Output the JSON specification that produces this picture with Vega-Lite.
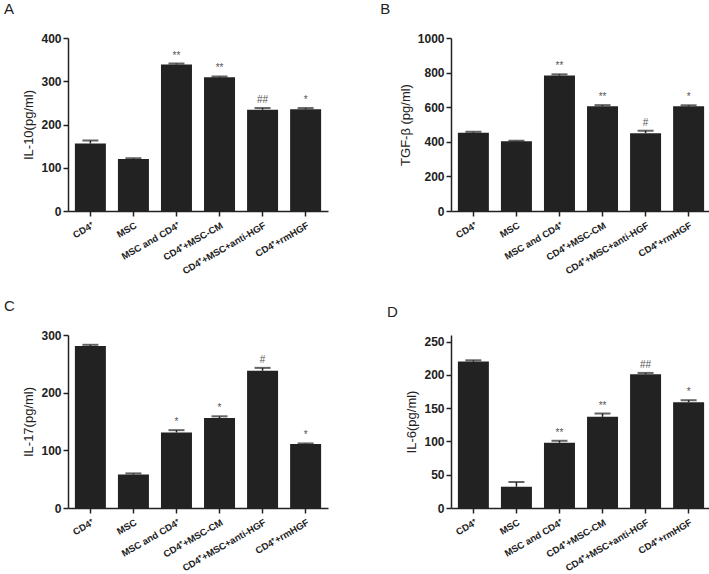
{
  "$schema": "https://vega.github.io/schema/vega-lite/v6.json",
  "padding": {"left": 3, "top": 2, "right": 0, "bottom": 0},
  "config": {
    "view": {"stroke": null},
    "font": "Liberation Sans",
    "axis": {"grid": false, "domainColor": "#222", "tickColor": "#222", "domainWidth": 1.5, "tickWidth": 1.5, "tickSize": 5, "labelFont": "Liberation Sans", "labelFontWeight": "bold", "labelColor": "#222", "titleFont": "Liberation Sans", "titleColor": "#222", "titleFontWeight": "normal", "titleFontSize": 13},
    "axisX": {"labelAngle": -30, "labelAlign": "right", "labelBaseline": "top", "labelFontSize": 9.5, "labelPadding": 4, "labelOverlap": false, "labelLimit": 300, "title": null},
    "axisY": {"labelFontSize": 12, "labelPadding": 2, "titlePadding": 5, "labelOverlap": false},
    "title": {"anchor": "start", "frame": "bounds", "fontSize": 15, "fontWeight": "normal", "font": "Liberation Sans", "color": "#222", "dx": -19, "offset": 15}
  },
  "columns": 2,
  "spacing": {"row": 23, "column": 52},
  "concat": [
    {
      "title": "A",
      "width": 260, "height": 173,
      "data": {"values": [
        {"group": "CD4⁺", "value": 156, "upper": 163, "sig": ""},
        {"group": "MSC", "value": 120, "upper": 122, "sig": ""},
        {"group": "MSC and CD4⁺", "value": 339, "upper": 341, "sig": "**"},
        {"group": "CD4⁺+MSC-CM", "value": 309, "upper": 311, "sig": "**"},
        {"group": "CD4⁺+MSC+anti-HGF", "value": 234, "upper": 238, "sig": "##"},
        {"group": "CD4⁺+rmHGF", "value": 235, "upper": 238, "sig": "*"}
      ]},
      "encoding": {"x": {"field": "group", "type": "nominal", "sort": null, "scale": {"paddingInner": 0.28, "paddingOuter": 0.16}}},
      "layer": [
        {"mark": {"type": "bar", "color": "#222"}, "encoding": {"y": {"field": "value", "type": "quantitative", "scale": {"domain": [0, 400]}, "axis": {"title": "IL-10(pg/ml)", "values": [0, 100, 200, 300, 400], "format": "d", "labelOverlap": false}}}},
        {"mark": {"type": "rule", "color": "#222", "strokeWidth": 1.5}, "encoding": {"y": {"field": "value", "type": "quantitative", "axis": {"title": "IL-10(pg/ml)", "values": [0, 100, 200, 300, 400], "format": "d", "labelOverlap": false}}, "y2": {"field": "upper"}}},
        {"mark": {"type": "tick", "color": "#222", "size": 16, "thickness": 2}, "encoding": {"y": {"field": "upper", "type": "quantitative", "axis": {"title": "IL-10(pg/ml)", "values": [0, 100, 200, 300, 400], "format": "d", "labelOverlap": false}}}},
        {"mark": {"type": "text", "baseline": "bottom", "dy": -3, "fontSize": 10, "color": "#555"}, "encoding": {"y": {"field": "upper", "type": "quantitative", "axis": {"title": "IL-10(pg/ml)", "values": [0, 100, 200, 300, 400], "format": "d", "labelOverlap": false}}, "text": {"field": "sig"}}}
      ]
    },
    {
      "title": "B",
      "width": 260, "height": 173,
      "data": {"values": [
        {"group": "CD4⁺", "value": 453, "upper": 458, "sig": ""},
        {"group": "MSC", "value": 403, "upper": 406, "sig": ""},
        {"group": "MSC and CD4⁺", "value": 783, "upper": 790, "sig": "**"},
        {"group": "CD4⁺+MSC-CM", "value": 606, "upper": 612, "sig": "**"},
        {"group": "CD4⁺+MSC+anti-HGF", "value": 450, "upper": 464, "sig": "#"},
        {"group": "CD4⁺+rmHGF", "value": 605, "upper": 611, "sig": "*"}
      ]},
      "encoding": {"x": {"field": "group", "type": "nominal", "sort": null, "scale": {"paddingInner": 0.28, "paddingOuter": 0.16}}},
      "layer": [
        {"mark": {"type": "bar", "color": "#222"}, "encoding": {"y": {"field": "value", "type": "quantitative", "scale": {"domain": [0, 1000]}, "axis": {"title": "TGF-β (pg/ml)", "values": [0, 200, 400, 600, 800, 1000], "format": "d", "labelOverlap": false}}}},
        {"mark": {"type": "rule", "color": "#222", "strokeWidth": 1.5}, "encoding": {"y": {"field": "value", "type": "quantitative", "axis": {"title": "TGF-β (pg/ml)", "values": [0, 200, 400, 600, 800, 1000], "format": "d", "labelOverlap": false}}, "y2": {"field": "upper"}}},
        {"mark": {"type": "tick", "color": "#222", "size": 16, "thickness": 2}, "encoding": {"y": {"field": "upper", "type": "quantitative", "axis": {"title": "TGF-β (pg/ml)", "values": [0, 200, 400, 600, 800, 1000], "format": "d", "labelOverlap": false}}}},
        {"mark": {"type": "text", "baseline": "bottom", "dy": -3, "fontSize": 10, "color": "#555"}, "encoding": {"y": {"field": "upper", "type": "quantitative", "axis": {"title": "TGF-β (pg/ml)", "values": [0, 200, 400, 600, 800, 1000], "format": "d", "labelOverlap": false}}, "text": {"field": "sig"}}}
      ]
    },
    {
      "title": "C",
      "width": 260, "height": 173,
      "data": {"values": [
        {"group": "CD4⁺", "value": 281, "upper": 283, "sig": ""},
        {"group": "MSC", "value": 58, "upper": 60, "sig": ""},
        {"group": "MSC and CD4⁺", "value": 131, "upper": 135, "sig": "*"},
        {"group": "CD4⁺+MSC-CM", "value": 156, "upper": 159, "sig": "*"},
        {"group": "CD4⁺+MSC+anti-HGF", "value": 238, "upper": 243, "sig": "#"},
        {"group": "CD4⁺+rmHGF", "value": 111, "upper": 112, "sig": "*"}
      ]},
      "encoding": {"x": {"field": "group", "type": "nominal", "sort": null, "scale": {"paddingInner": 0.28, "paddingOuter": 0.16}}},
      "layer": [
        {"mark": {"type": "bar", "color": "#222"}, "encoding": {"y": {"field": "value", "type": "quantitative", "scale": {"domain": [0, 300]}, "axis": {"title": "IL-17(pg/ml)", "values": [0, 100, 200, 300], "format": "d", "labelOverlap": false}}}},
        {"mark": {"type": "rule", "color": "#222", "strokeWidth": 1.5}, "encoding": {"y": {"field": "value", "type": "quantitative", "axis": {"title": "IL-17(pg/ml)", "values": [0, 100, 200, 300], "format": "d", "labelOverlap": false}}, "y2": {"field": "upper"}}},
        {"mark": {"type": "tick", "color": "#222", "size": 16, "thickness": 2}, "encoding": {"y": {"field": "upper", "type": "quantitative", "axis": {"title": "IL-17(pg/ml)", "values": [0, 100, 200, 300], "format": "d", "labelOverlap": false}}}},
        {"mark": {"type": "text", "baseline": "bottom", "dy": -3, "fontSize": 10, "color": "#555"}, "encoding": {"y": {"field": "upper", "type": "quantitative", "axis": {"title": "IL-17(pg/ml)", "values": [0, 100, 200, 300], "format": "d", "labelOverlap": false}}, "text": {"field": "sig"}}}
      ]
    },
    {
      "title": "D",
      "width": 260, "height": 173,
      "data": {"values": [
        {"group": "CD4⁺", "value": 220, "upper": 222, "sig": ""},
        {"group": "MSC", "value": 32, "upper": 39, "sig": ""},
        {"group": "MSC and CD4⁺", "value": 98, "upper": 101, "sig": "**"},
        {"group": "CD4⁺+MSC-CM", "value": 137, "upper": 142, "sig": "**"},
        {"group": "CD4⁺+MSC+anti-HGF", "value": 201, "upper": 203, "sig": "##"},
        {"group": "CD4⁺+rmHGF", "value": 159, "upper": 162, "sig": "*"}
      ]},
      "encoding": {"x": {"field": "group", "type": "nominal", "sort": null, "scale": {"paddingInner": 0.28, "paddingOuter": 0.16}}},
      "layer": [
        {"mark": {"type": "bar", "color": "#222"}, "encoding": {"y": {"field": "value", "type": "quantitative", "scale": {"domain": [0, 250]}, "axis": {"title": "IL-6(pg/ml)", "values": [0, 50, 100, 150, 200, 250], "format": "d", "labelOverlap": false}}}},
        {"mark": {"type": "rule", "color": "#222", "strokeWidth": 1.5}, "encoding": {"y": {"field": "value", "type": "quantitative", "axis": {"title": "IL-6(pg/ml)", "values": [0, 50, 100, 150, 200, 250], "format": "d", "labelOverlap": false}}, "y2": {"field": "upper"}}},
        {"mark": {"type": "tick", "color": "#222", "size": 16, "thickness": 2}, "encoding": {"y": {"field": "upper", "type": "quantitative", "axis": {"title": "IL-6(pg/ml)", "values": [0, 50, 100, 150, 200, 250], "format": "d", "labelOverlap": false}}}},
        {"mark": {"type": "text", "baseline": "bottom", "dy": -3, "fontSize": 10, "color": "#555"}, "encoding": {"y": {"field": "upper", "type": "quantitative", "axis": {"title": "IL-6(pg/ml)", "values": [0, 50, 100, 150, 200, 250], "format": "d", "labelOverlap": false}}, "text": {"field": "sig"}}}
      ]
    }
  ]
}
